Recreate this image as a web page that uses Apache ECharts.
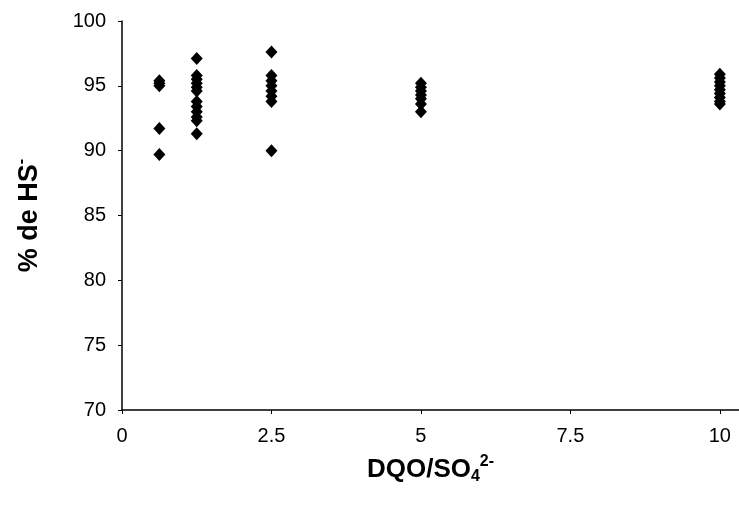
<!DOCTYPE html>
<html>
<head>
<meta charset="utf-8">
<script src="https://cdn.jsdelivr.net/npm/echarts@6/dist/echarts.min.js"></script>
<style>
  html, body { margin: 0; padding: 0; background: #fff; }
</style>
</head>
<body>
<div id="chart" style="width: 739px;height:515px;"></div>
<script>
  // DQO/SO4 ratio groups and the % HS- readings for each
  var ratios = [0.625, 1.25, 2.5, 5, 10];
  var hsAt0625 = [95.4, 95.2, 95.0, 91.7, 89.7];
  var hsAt125 = [97.1, 95.8, 95.5, 95.2, 94.9, 94.6, 93.8, 93.4, 93.0, 92.6, 92.3, 91.3];
  var hsAt25 = [97.6, 95.8, 95.4, 95.0, 94.6, 94.2, 93.8, 90.0];
  var hsAt5 = [95.2, 94.9, 94.6, 94.3, 94.0, 93.6, 93.0];
  var hsAt10 = [95.9, 95.6, 95.3, 95.0, 94.7, 94.4, 94.1, 93.8, 93.6];
  var xTicks = [0, 2.5, 5, 7.5, 10];
  var yTicks = [70, 75, 80, 85, 90, 95, 100];

  var groups = [hsAt0625, hsAt125, hsAt25, hsAt5, hsAt10];
  var points = [];
  for (var g = 0; g < groups.length; g++) {
    for (var i = 0; i < groups[g].length; i++) {
      points.push([ratios[g], groups[g][i]]);
    }
  }

  var font = 'Liberation Sans, Arial, sans-serif';
  var option = {
    animation: false,
    grid: { left: 122, right: 0, top: 21, bottom: 105 },
    xAxis: {
      type: 'value',
      min: 0,
      max: 10.32,
      interval: 2.5,
      splitLine: { show: false },
      axisLine: { lineStyle: { color: '#000', width: 1.5 } },
      axisTick: { length: 4, lineStyle: { color: '#000' } },
      axisLabel: {
        color: '#000', fontSize: 20, fontFamily: font, margin: 16,
        showMaxLabel: false,
        formatter: function (v) { return xTicks.indexOf(v) >= 0 ? String(v) : ''; }
      },
      name: '{b|DQO/SO}{sub|4}{sup|2-}',
      nameLocation: 'middle',
      nameGap: 44,
      nameTextStyle: {
        rich: {
          b: { fontSize: 26, fontWeight: 'bold', color: '#000', fontFamily: font },
          sub: { fontSize: 16, fontWeight: 'bold', color: '#000', fontFamily: font, padding: [14, 0, 0, 0] },
          sup: { fontSize: 16, fontWeight: 'bold', color: '#000', fontFamily: font, padding: [0, 0, 16, 0] }
        }
      }
    },
    yAxis: {
      type: 'value',
      min: 70,
      max: 100,
      interval: 5,
      splitLine: { show: false },
      axisLine: { show: true, lineStyle: { color: '#000', width: 1.5 } },
      axisTick: { show: true, length: 4, lineStyle: { color: '#000' } },
      axisLabel: {
        color: '#000', fontSize: 20, fontFamily: font, margin: 16,
        formatter: function (v) { return yTicks.indexOf(v) >= 0 ? String(v) : ''; }
      },
      name: '{b|% de HS}{sup|-}',
      nameLocation: 'middle',
      nameGap: 76,
      nameTextStyle: {
        rich: {
          b: { fontSize: 27, fontWeight: 'bold', color: '#000', fontFamily: font },
          sup: { fontSize: 16, fontWeight: 'bold', color: '#000', fontFamily: font, padding: [0, 0, 16, 0] }
        }
      }
    },
    series: [
      {
        type: 'scatter',
        symbol: 'diamond',
        symbolSize: [12, 13],
        itemStyle: { color: '#000', opacity: 1 },
        data: points
      }
    ]
  };

  echarts.init(document.getElementById('chart')).setOption(option);
</script>
</body>
</html>
